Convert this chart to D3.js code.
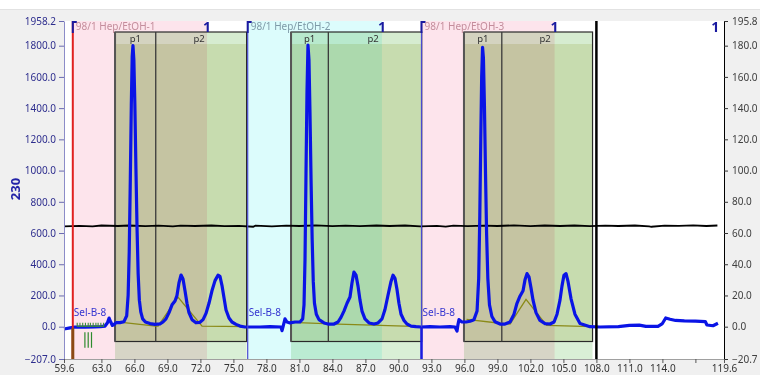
<!DOCTYPE html>
<html>
<head>
<meta charset="utf-8">
<script src="https://cdn.jsdelivr.net/npm/d3@7"></script>
<style>
  body { margin: 0; background: #f0f0f0; }
  svg { display: block; font-family: "Noto Sans", "Open Sans", sans-serif; }
</style>
</head>
<body>
<svg id="chart" width="760" height="375"></svg>
<script>
// ---- data ----
const xTicks = [59.6, 63, 66, 69, 72, 75, 78, 81, 84, 87, 90, 93, 96, 99, 102, 105, 108, 111, 114, 117, 119.6];
const xTickLabels = ["59.6", "63.0", "66.0", "69.0", "72.0", "75.0", "78.0", "81.0", "84.0", "87.0", "90.0",
  "93.0", "96.0", "99.0", "102.0", "105.0", "108.0", "111.0", "114.0", "", "119.6"];
const leftTicks = [-207, 0, 200, 400, 600, 800, 1000, 1200, 1400, 1600, 1800, 1958.2];
const rightTicks = [-20.7, 0, 20, 40, 60, 80, 100, 120, 140, 160, 180, 195.8];

const sampleNames = ["98/1 Hep/EtOH-1", "98/1 Hep/EtOH-2", "98/1 Hep/EtOH-3"];
const sampleStart = [60.4, 76.3, 92.1];
const sampleEnd = [72.6, 88.5, 104.2];
const endMarkers = [72.6, 88.5, 104.2, 118.8];
const runEnd = 108.0;

const fracStart = [64.24, 80.24, 95.96];
const fracSplit = [67.94, 83.63, 99.4];
const fracEnd = [76.2, 92.12, 107.65];
const peakNames = ["p1", "p2"];

// UV 230 nm trace (left axis)
const uv230 = [
  [59.6, -15], [60.15, -8], [60.6, -2], [61.5, -3], [62.4, -1], [62.9, 0], [63.33, 4], [63.55, 25], [63.7, 55],
  [63.85, 30], [64.0, 8], [64.15, 14], [64.33, 26], [64.69, 26], [65.05, 32], [65.3, 70], [65.43, 200],
  [65.53, 480], [65.63, 950], [65.72, 1420], [65.8, 1730], [65.87, 1800], [65.95, 1710], [66.04, 1430],
  [66.14, 1010], [66.24, 630], [66.34, 340], [66.45, 170], [66.58, 95], [66.75, 50], [67.0, 30], [67.42, 20],
  [67.87, 15], [68.33, 18], [68.6, 30], [68.87, 50], [69.15, 90], [69.42, 140], [69.69, 165], [69.87, 200],
  [70.05, 280], [70.24, 331], [70.42, 305], [70.6, 230], [70.78, 150], [70.96, 90], [71.24, 45], [71.6, 25],
  [71.96, 28], [72.24, 45], [72.51, 85], [72.78, 150], [73.05, 230], [73.33, 295], [73.6, 330], [73.78, 322],
  [73.96, 265], [74.15, 184], [74.33, 107], [74.6, 56], [74.87, 30], [75.24, 15], [75.6, 4], [76.05, -2],
  [76.51, -2], [77.42, -2], [78.33, 0], [79.33, -2], [79.42, -25], [79.55, 10], [79.69, 50], [79.87, 30],
  [80.15, 24], [80.6, 30], [81.05, 30], [81.3, 50], [81.42, 140], [81.51, 430], [81.6, 980], [81.69, 1500],
  [81.78, 1804], [81.87, 1710], [81.96, 1380], [82.06, 940], [82.16, 560], [82.26, 290], [82.37, 150],
  [82.54, 80], [82.78, 45], [83.24, 24], [83.6, 17], [84.15, 17], [84.51, 30], [84.78, 60], [85.05, 100],
  [85.33, 150], [85.6, 190], [85.78, 280], [85.96, 350], [86.15, 330], [86.33, 260], [86.51, 170],
  [86.69, 100], [86.96, 50], [87.33, 24], [87.78, 17], [88.15, 24], [88.51, 50], [88.78, 110], [89.05, 200],
  [89.33, 290], [89.51, 330], [89.69, 310], [89.87, 240], [90.05, 150], [90.24, 80], [90.51, 40], [90.78, 17],
  [91.15, 4], [91.6, 0], [92.05, -2], [92.87, 0], [93.78, -2], [94.69, 0], [95.15, -2], [95.33, -28],
  [95.42, 15], [95.51, 45], [95.78, 30], [96.15, 30], [96.51, 35], [96.87, 45], [97.15, 100], [97.3, 310],
  [97.4, 710], [97.49, 1200], [97.57, 1600], [97.65, 1790], [97.73, 1720], [97.82, 1420], [97.92, 980],
  [98.02, 590], [98.13, 310], [98.28, 140], [98.5, 65], [98.78, 32], [99.24, 17], [99.69, 17], [100.15, 30],
  [100.51, 80], [100.78, 150], [101.05, 195], [101.33, 230], [101.51, 300], [101.69, 340], [101.87, 320],
  [102.05, 250], [102.24, 170], [102.51, 90], [102.87, 40], [103.33, 20], [103.78, 17], [104.15, 30],
  [104.42, 80], [104.69, 170], [104.87, 260], [105.05, 330], [105.24, 340], [105.42, 290], [105.69, 180],
  [106.05, 80], [106.51, 20], [107.42, 0], [108.33, -2], [110.0, 0], [111.0, 8], [111.9, 10], [112.5, 2],
  [113.6, 2], [114.0, 20], [114.3, 56], [114.7, 48], [115.2, 40], [116.0, 37], [117.0, 35], [117.9, 33],
  [118.05, 11], [118.6, 6], [119.05, 22]
];

// conductivity-like trace (right axis)
const condTrace = [
  [59.6, 64.3], [61, 64.6], [62.2, 64.3], [63, 64.8], [64.5, 64.5], [65.5, 64.8], [67, 64.4], [68.2, 64.7],
  [69.5, 64.3], [70.2, 64.7], [71.5, 64.5], [73, 64.8], [74.2, 64.4], [75.5, 64.6], [76.8, 64.0], [77, 64.7],
  [78.5, 64.3], [79.8, 64.7], [81, 64.5], [82.5, 64.9], [84, 64.4], [85.2, 64.7], [86.5, 64.4], [88, 64.8],
  [89.2, 64.5], [90.6, 64.8], [92, 64.3], [93.5, 64.6], [94.3, 64.1], [95, 64.7], [96.3, 64.4], [97.8, 64.7],
  [99, 64.5], [100.5, 64.9], [102, 64.4], [103.3, 64.8], [104.7, 64.5], [106, 64.8], [107.4, 64.4],
  [108.8, 64.7], [110, 64.5], [111.5, 64.8], [112.8, 64.3], [113.0, 64.0], [114.2, 64.7], [115.5, 64.6],
  [116.8, 64.9], [118, 64.5], [119.0, 64.8]
];

// fraction baselines (left axis)
const fracBaselines = [
  [[64.24, 32], [67.94, 4], [68.15, 4], [69.96, 190], [72.15, 4], [76.2, 0]],
  [[80.24, 28], [84.5, 17], [92.12, 0]],
  [[96.2, 47], [99.24, 22], [100.15, 17], [101.6, 175], [103.48, 9], [107.6, 1]]
];

const collectTicks = [61.5, 61.8, 62.1];
const combTicks = [60.8, 61.05, 61.3, 61.55, 61.8, 62.0, 62.25, 62.5, 62.7, 62.95, 63.2];

// ---- layout ----
const svg = d3.select("#chart");
const pL = 64, pR = 724, pT = 21, pB = 359;
const x = d3.scaleLinear().domain([59.6, 119.6]).range([pL, pR]);
const yL = d3.scaleLinear().domain([-207, 1958.2]).range([pB, pT]);
const yR = d3.scaleLinear().domain([-20.7, 195.8]).range([pB, pT]);

const rectTop = 32, stripBottom = 44, rectBottom = 341.5;

// page background
svg.append("rect").attr("width", 760).attr("height", 9).attr("fill", "#ffffff");
svg.append("line").attr("x1", 0).attr("x2", 760).attr("y1", 9.5).attr("y2", 9.5).attr("stroke", "#e2e2e2");

// plot area
svg.append("rect").attr("x", pL).attr("y", pT).attr("width", pR - pL).attr("height", pB - pT)
  .attr("fill", "#ffffff");

// sample bands
const sampleColors = ["#fde4ec", "#dcfcfc", "#fde4ec"];
svg.append("g").selectAll("rect").data(sampleStart).enter().append("rect")
  .attr("x", d => x(d))
  .attr("y", pT)
  .attr("width", (d, i) => x(sampleEnd[i]) - x(d))
  .attr("height", pB - pT)
  .attr("fill", (d, i) => sampleColors[i]);

// fraction zones, multiplied over the sample bands
const frac = svg.append("g");
fracStart.forEach((s, i) => {
  const w = x(fracEnd[i]) - x(s);
  frac.append("rect").attr("x", x(s)).attr("y", rectBottom).attr("width", w).attr("height", pB - rectBottom)
    .attr("fill", "#d9efd6").style("mix-blend-mode", "multiply");
  frac.append("rect").attr("x", x(s)).attr("y", rectTop).attr("width", w).attr("height", stripBottom - rectTop)
    .attr("fill", "#d6ecd0").style("mix-blend-mode", "multiply");
  frac.append("rect").attr("x", x(s)).attr("y", stripBottom).attr("width", w).attr("height", rectBottom - stripBottom)
    .attr("fill", "#c7dcaf").style("mix-blend-mode", "multiply");
});

// fraction outlines and peak names
fracStart.forEach((s, i) => {
  frac.append("rect").attr("x", x(s)).attr("y", rectTop).attr("width", x(fracEnd[i]) - x(s))
    .attr("height", rectBottom - rectTop).attr("fill", "none").attr("stroke", "#2a2a2a").attr("stroke-width", 1.2);
  frac.append("line").attr("x1", x(s)).attr("x2", x(s)).attr("y1", rectTop).attr("y2", rectBottom)
    .attr("stroke", "#555").attr("stroke-width", 2);
  frac.append("line").attr("x1", x(fracSplit[i])).attr("x2", x(fracSplit[i])).attr("y1", rectTop).attr("y2", rectBottom)
    .attr("stroke", "#3a3a3a").attr("stroke-width", 1.3);
  frac.append("text").attr("x", (x(s) + x(fracSplit[i])) / 2).attr("y", 42).attr("text-anchor", "middle")
    .attr("font-size", 9.5).attr("fill", "#333").text(peakNames[0]);
  frac.append("text").attr("x", (x(fracSplit[i]) + x(fracEnd[i])) / 2 - 2).attr("y", 42).attr("text-anchor", "middle")
    .attr("font-size", 9.5).attr("fill", "#333").text(peakNames[1]);
});

// injection lines
const marks = svg.append("g");
sampleStart.forEach((s, i) => {
  marks.append("line").attr("x1", x(s)).attr("x2", x(s)).attr("y1", pT).attr("y2", pB)
    .attr("stroke", i === 0 ? "#e02020" : "#4a4ad0").attr("stroke-width", i === 0 ? 2 : 1.2);
});
marks.append("line").attr("x1", x(sampleStart[2])).attr("x2", x(sampleStart[2])).attr("y1", yL(0)).attr("y2", pB)
  .attr("stroke", "#1a1ae0").attr("stroke-width", 2.5);
marks.append("line").attr("x1", x(sampleStart[0])).attr("x2", x(sampleStart[0])).attr("y1", yL(-10)).attr("y2", pB)
  .attr("stroke", "#8b4a14").attr("stroke-width", 3);
marks.append("line").attr("x1", x(runEnd)).attr("x2", x(runEnd)).attr("y1", pT).attr("y2", pB)
  .attr("stroke", "#000").attr("stroke-width", 2.5);

// fraction collector ticks
marks.selectAll(".ct").data(collectTicks).enter().append("line")
  .attr("x1", d => x(d)).attr("x2", d => x(d)).attr("y1", yL(-35)).attr("y2", yL(-135))
  .attr("stroke", "#2e8b2e").attr("stroke-width", 1.2);

// traces
const lineR = d3.line().x(d => x(d[0])).y(d => yR(d[1]));
const lineL = d3.line().x(d => x(d[0])).y(d => yL(d[1]));

svg.append("path").datum(condTrace).attr("d", lineR).attr("fill", "none")
  .attr("stroke", "#000").attr("stroke-width", 1.8);

svg.append("g").selectAll("path").data(fracBaselines).enter().append("path")
  .attr("d", lineL).attr("fill", "none").attr("stroke", "#8a8a18").attr("stroke-width", 1.3);

svg.append("path").datum(uv230).attr("d", lineL).attr("fill", "none")
  .attr("stroke", "#0a14e6").attr("stroke-width", 3.2).attr("stroke-linejoin", "round");

// small fraction marks drawn over the baseline
marks.raise();
marks.selectAll(".cb").data(combTicks).enter().append("line")
  .attr("x1", d => x(d)).attr("x2", d => x(d)).attr("y1", yL(0)).attr("y2", yL(26))
  .attr("stroke", "#3c8a3c").attr("stroke-width", 1.1);
marks.append("line").attr("x1", x(combTicks[0])).attr("x2", x(combTicks[combTicks.length - 1]))
  .attr("y1", yL(3)).attr("y2", yL(3)).attr("stroke", "#3c8a3c").attr("stroke-width", 1.2);

// sample labels and markers
const labelColors = ["#c48d9c", "#7f9aa8", "#c48d9c"];
sampleStart.forEach((s, i) => {
  svg.append("path").attr("d", `M${x(s)},33V${pT + 1}h4`).attr("fill", "none")
    .attr("stroke", "#1a1aa0").attr("stroke-width", 2);
  svg.append("text").attr("x", x(s) + 3).attr("y", 30).attr("font-size", 10)
    .attr("fill", labelColors[i]).text(sampleNames[i]);
  svg.append("text").attr("x", x(s) + 1).attr("y", 316).attr("font-size", 10)
    .attr("fill", "#3434d0").text("Sel-B-8");
});
svg.append("g").selectAll("text").data(endMarkers).enter().append("text")
  .attr("x", d => x(d)).attr("y", 31.5).attr("text-anchor", "middle")
  .attr("font-size", 14).attr("font-weight", "bold").attr("fill", "#1a1aa0").text("1");

// axes
const axL = svg.append("g").attr("transform", `translate(${pL},0)`)
  .call(d3.axisLeft(yL).tickValues(leftTicks).tickFormat(d3.format(".1f")).tickSize(5).tickSizeOuter(0).tickPadding(3));
axL.select(".domain").attr("stroke", "#8c8cc8");
axL.selectAll(".tick line").attr("stroke", "#6a6ab0");
axL.selectAll("text").attr("fill", "#2e2e8e").attr("font-size", 10).attr("font-family", "Noto Sans");

const axR = svg.append("g").attr("transform", `translate(${pR},0)`)
  .call(d3.axisRight(yR).tickValues(rightTicks).tickFormat(d3.format(".1f")).tickSize(4).tickSizeOuter(0).tickPadding(4));
axR.select(".domain").attr("stroke", "#000");
axR.selectAll(".tick line").attr("stroke", "#333");
axR.selectAll("text").attr("fill", "#404040").attr("font-size", 10).attr("font-family", "Noto Sans");

const axB = svg.append("g").attr("transform", `translate(0,${pB})`)
  .call(d3.axisBottom(x).tickValues(xTicks).tickFormat((d, i) => xTickLabels[i]).tickSize(4).tickSizeOuter(0).tickPadding(2));
axB.select(".domain").attr("stroke", "#a0a0a0");
axB.selectAll(".tick line").attr("stroke", "#555");
axB.selectAll("text").attr("fill", "#333").attr("font-size", 10).attr("font-family", "Noto Sans");

// axis title
svg.append("text").attr("transform", "translate(20,189) rotate(-90)").attr("text-anchor", "middle")
  .attr("font-size", 13).attr("font-weight", "bold").attr("fill", "#2323a8").text("230");
</script>
</body>
</html>
